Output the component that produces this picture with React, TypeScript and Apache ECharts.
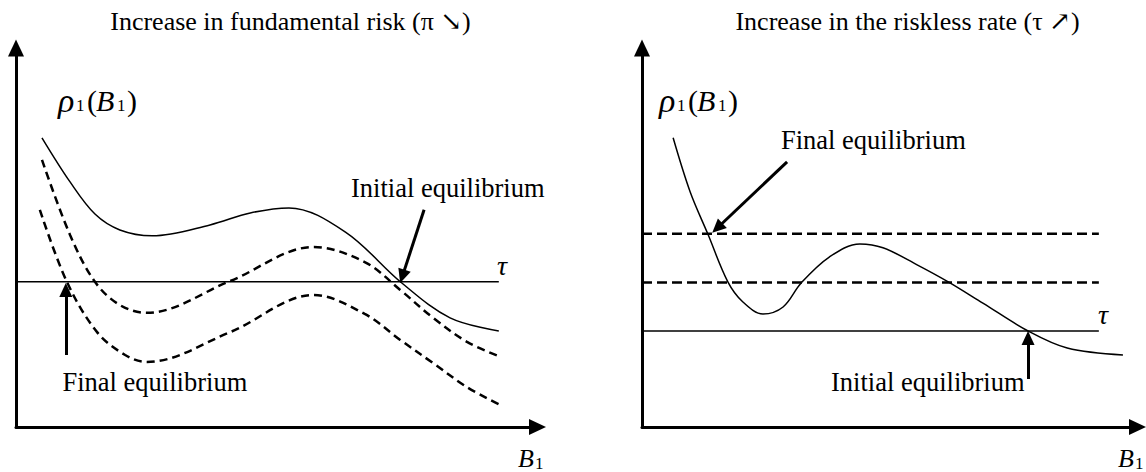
import React, { useEffect, useRef } from "react";
import * as echarts from "echarts";

// ---------- data (value units of each panel's own axes) ----------
// Left panel: increase in fundamental risk
const leftSolid: [number, number][] = [
  [4.9, 74.7], [10.2, 63.3], [14.9, 55.0], [19.6, 50.9], [25.7, 49.4],
  [36.6, 52.2], [44.2, 55.3], [51.5, 56.6], [62.1, 50.4], [72.8, 37.2],
  [81.9, 28.2], [91.1, 24.8],
];
const leftDashedA: [number, number][] = [
  [4.9, 69.0], [10.2, 49.6], [14.9, 37.5], [19.6, 31.5], [24.7, 29.5],
  [40.4, 37.7], [56.2, 46.5], [65.8, 42.6], [72.5, 35.4], [78.7, 28.2],
  [85.1, 22.0], [91.1, 18.3],
];
const leftDashedB: [number, number][] = [
  [4.5, 56.1], [9.6, 37.5], [15.3, 24.5], [20.6, 18.6], [24.7, 16.8],
  [40.4, 24.5], [56.2, 34.1], [65.8, 29.2], [72.5, 22.5], [78.7, 16.5],
  [85.1, 10.3], [91.1, 5.9],
];
const leftTau = 37.5;
const leftLineEnd = 91.1;
const leftArrows: { from: [number, number]; to: [number, number] }[] = [
  { from: [77.0, 56.1], to: [72.9, 38.9] }, // initial equilibrium
  { from: [9.4, 18.6], to: [9.4, 35.4] }, // final equilibrium
];

// Right panel: increase in the riskless rate
const rightCurve: [number, number][] = [
  [6.2, 74.7], [9.6, 60.7], [13.1, 49.9], [17.1, 37.5], [20.1, 32.3],
  [24.1, 29.2], [28.1, 31.0], [31.7, 37.2], [37.3, 43.9], [43.4, 47.3],
  [48.0, 46.3], [54.8, 41.9], [61.0, 37.5], [67.9, 32.0], [76.9, 24.8],
  [84.7, 20.4], [95.8, 18.6],
];
const rightTau = 24.8;
const rightDashedLevels = [49.9, 37.3];
const rightLineEnd = 91.0;
const rightArrows: { from: [number, number]; to: [number, number] }[] = [
  { from: [28.9, 68.5], to: [15.0, 51.4] }, // final equilibrium
  { from: [76.9, 12.4], to: [76.9, 23.0] }, // initial equilibrium
];

const leftTitle = "Increase in fundamental risk (\u03c0 \u2198)";
const rightTitle = "Increase in the riskless rate (\u03c4 \u2197)";
const initialLabel = "Initial equilibrium";
const finalLabel = "Final equilibrium";

// ---------- styling ----------
const SERIF = '"Liberation Serif", "Times New Roman", "DejaVu Serif", serif';
const BLACK = "#000";
const SMOOTH = 0.35;

function txt(
  text: string,
  x: number,
  y: number,
  size: number,
  opts: { italic?: boolean; align?: string } = {}
) {
  const fs = opts.italic ? "italic" : "normal";
  return {
    type: "text",
    x,
    y,
    silent: true,
    style: {
      text,
      fill: BLACK,
      font: `${fs} normal ${size}px ${SERIF}`,
      fontFamily: SERIF,
      fontSize: size,
      fontStyle: fs,
      align: opts.align || "left",
      verticalAlign: "middle",
    },
  };
}

function rhoLabel(x0: number) {
  return [
    txt("\u03c1", x0, 100, 34, { italic: true }),
    txt("1", x0 + 18, 105, 17),
    txt("(", x0 + 29, 100, 30),
    txt("B", x0 + 38, 100, 30, { italic: true }),
    txt("1", x0 + 59, 105, 17),
    txt(")", x0 + 69, 100, 30),
  ];
}

function bLabel(x0: number) {
  return [
    txt("B", x0, 458.5, 26, { italic: true }),
    txt("1", x0 + 17, 463, 17),
  ];
}

function arrowMarkLine(arrows: { from: [number, number]; to: [number, number] }[]) {
  return {
    silent: true,
    symbol: ["none", "triangle"],
    symbolSize: [13, 14],
    label: { show: false },
    lineStyle: { color: BLACK, width: 3, type: "solid" },
    emphasis: { disabled: true },
    data: arrows.map((a) => [{ coord: a.from }, { coord: a.to }]),
  };
}

function lineSeries(
  data: [number, number][],
  gridIdx: number,
  width: number,
  dash?: number[],
  extra: any = {}
) {
  return {
    type: "line",
    xAxisIndex: gridIdx,
    yAxisIndex: gridIdx,
    data,
    smooth: SMOOTH,
    showSymbol: false,
    symbol: "none",
    silent: true,
    lineStyle: { color: BLACK, width, type: dash || "solid", cap: "butt" },
    ...extra,
  };
}

function axisCommon(gridIndex: number, max: number) {
  return {
    gridIndex,
    type: "value",
    min: 0,
    max,
    axisLine: {
      show: true,
      symbol: ["none", "triangle"],
      symbolSize: [16, 17],
      lineStyle: { color: BLACK, width: 3 },
    },
    axisTick: { show: false },
    axisLabel: { show: false },
    splitLine: { show: false },
  };
}

export default function App() {
  const ref = useRef<HTMLDivElement>(null);

  useEffect(() => {
    if (!ref.current) return;
    const chart = echarts.init(ref.current, undefined, { renderer: "svg" });

    const option: any = {
      animation: false,
      backgroundColor: "#fff",
      grid: [
        { left: 16, top: 48, width: 521.5, height: 379, outerBoundsMode: "none", containLabel: false },
        { left: 642, top: 48, width: 495.5, height: 379, outerBoundsMode: "none", containLabel: false },
      ],
      xAxis: [axisCommon(0, 98.4), axisCommon(1, 98.7)],
      yAxis: [axisCommon(0, 97.9), axisCommon(1, 97.9)],
      series: [
        lineSeries(leftSolid, 0, 1.5),
        lineSeries(leftDashedA, 0, 2.5, [8, 5]),
        lineSeries(leftDashedB, 0, 2.5, [8, 5]),
        lineSeries(
          [
            [0, leftTau],
            [leftLineEnd, leftTau],
          ],
          0,
          1.5,
          undefined,
          { smooth: false, markLine: arrowMarkLine(leftArrows) }
        ),
        lineSeries(rightCurve, 1, 1.5),
        ...rightDashedLevels.map((lv) =>
          lineSeries(
            [
              [0, lv],
              [rightLineEnd, lv],
            ],
            1,
            2.5,
            [10, 5],
            { smooth: false }
          )
        ),
        lineSeries(
          [
            [0, rightTau],
            [rightLineEnd, rightTau],
          ],
          1,
          1.5,
          undefined,
          { smooth: false, markLine: arrowMarkLine(rightArrows) }
        ),
      ],
      graphic: {
        elements: [
          txt(leftTitle, 290.5, 21, 26, { align: "center" }),
          txt(rightTitle, 907.5, 21, 26, { align: "center" }),
          ...rhoLabel(58),
          ...rhoLabel(659),
          txt(initialLabel, 351, 188, 26.5),
          txt(finalLabel, 62.5, 382, 26.5),
          txt(finalLabel, 781, 139.5, 26.5),
          txt(initialLabel, 831, 381.5, 26.5),
          txt("\u03c4", 497, 265.5, 28, { italic: true }),
          txt("\u03c4", 1098, 314.5, 28, { italic: true }),
          ...bLabel(518),
          ...bLabel(1118),
        ],
      },
    };

    chart.setOption(option);
    return () => chart.dispose();
  }, []);

  return (
    <div
      ref={ref}
      style={{ position: "absolute", left: 0, top: 0, width: 1146, height: 472, background: "#fff" }}
    />
  );
}
